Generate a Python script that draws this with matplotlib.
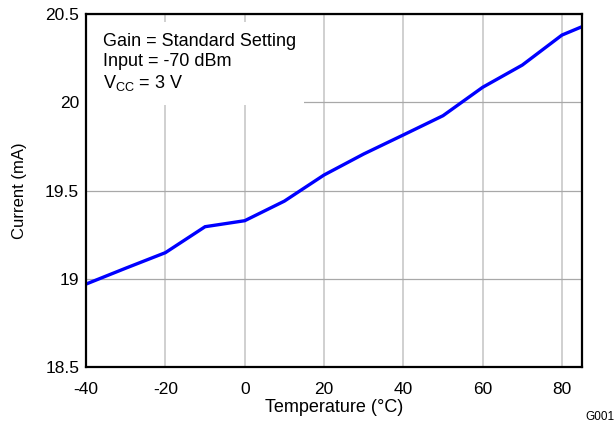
import matplotlib
matplotlib.use("Agg")
import matplotlib.pyplot as plt
from matplotlib.patches import Rectangle

temperature = [-40, -30, -20, -10, 0, 10, 20, 30, 40, 50, 60, 70, 80, 85]
current = [18.97, 19.06, 19.148, 19.295, 19.329, 19.44, 19.588, 19.707, 19.815,
           19.924, 20.085, 20.211, 20.381, 20.428]

x_ticks = [-40, -20, 0, 20, 40, 60, 80]
y_ticks = [18.5, 19, 19.5, 20, 20.5]
y_tick_labels = ["18.5", "19", "19.5", "20", "20.5"]

plt.rcParams["font.family"] = ["Liberation Sans", "DejaVu Sans"]
plt.rcParams["mathtext.fontset"] = "custom"
plt.rcParams["mathtext.rm"] = "Liberation Sans"
plt.rcParams["mathtext.it"] = "Liberation Sans:italic"
plt.rcParams["axes.unicode_minus"] = False

fig = plt.figure(figsize=(6.15, 4.26), dpi=100)
ax = fig.add_axes([0.14, 0.1385, 0.806, 0.8285])

ax.plot(temperature, current, color="#0000ff", linewidth=2.4, zorder=3,
        solid_joinstyle="miter")

ax.set_xlim(-40, 85)
ax.set_ylim(18.5, 20.5)
ax.set_xticks(x_ticks)
ax.set_yticks(y_ticks)
ax.set_yticklabels(y_tick_labels)
ax.grid(True, axis="x", color="#c8c8c8", linewidth=1.2, zorder=0)
ax.grid(True, axis="y", color="#a8a8a8", linewidth=0.9, zorder=0)
ax.set_axisbelow(True)
ax.tick_params(axis="both", length=0, labelsize=12.5, colors="black")
ax.tick_params(axis="x", pad=10.5)
ax.tick_params(axis="y", pad=5)

for s in ax.spines.values():
    s.set_linewidth(1.6)
    s.set_color("black")
    s.set_zorder(4)

ax.set_xlabel("Temperature (\u00b0C)", fontsize=13, labelpad=2)
ax.set_ylabel("Current (mA)", fontsize=12, labelpad=13)

# white box behind the conditions text
ax.add_patch(Rectangle((0, 0.742), 0.44, 0.235, transform=ax.transAxes,
                       facecolor="white", edgecolor="none", zorder=1))
ax.text(0.034, 0.945,
        "Gain = Standard Setting\nInput = -70 dBm\nV$_{\\mathrm{CC}}$ = 3 V",
        transform=ax.transAxes, fontsize=13, va="top", ha="left",
        linespacing=1.2, zorder=2)

fig.text(1.0, 0.02, "G001", fontsize=8.5, ha="right", va="center")

fig.savefig("out.png", dpi=100)
plt.close(fig)
